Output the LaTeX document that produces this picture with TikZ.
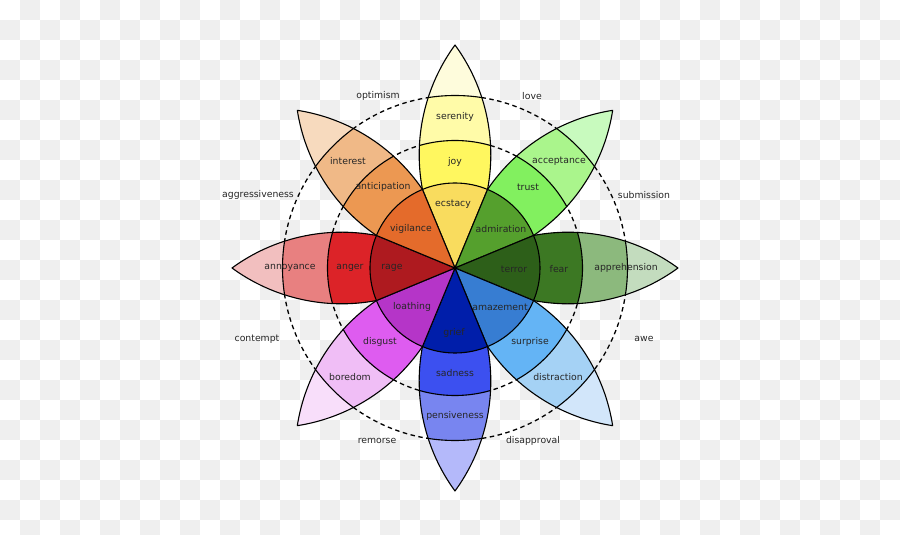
\documentclass[tikz,border=0pt]{standalone}
\usepackage{fontspec}
\setmainfont{DejaVu Sans}
\definecolor{checker}{HTML}{EFEFEF}
\definecolor{txt}{HTML}{262626}
\definecolor{Ya}{HTML}{F9DC5E}\definecolor{Yb}{HTML}{FFF75F}\definecolor{Yc}{HTML}{FFFBA8}\definecolor{Yd}{HTML}{FEFCDC}
\definecolor{Ga}{HTML}{55A02D}\definecolor{Gb}{HTML}{82F05F}\definecolor{Gc}{HTML}{AAF58C}\definecolor{Gd}{HTML}{C8FABE}
\definecolor{Da}{HTML}{2D5F19}\definecolor{Db}{HTML}{3C7823}\definecolor{Dc}{HTML}{8CB97D}\definecolor{Dd}{HTML}{C3DCBE}
\definecolor{Ba}{HTML}{377DD2}\definecolor{Bb}{HTML}{64B4F5}\definecolor{Bc}{HTML}{A5D2F5}\definecolor{Bd}{HTML}{D2E6FA}
\definecolor{Na}{HTML}{001EAA}\definecolor{Nb}{HTML}{3C50F0}\definecolor{Nc}{HTML}{7885F0}\definecolor{Nd}{HTML}{B4B9FA}
\definecolor{Pa}{HTML}{B535C8}\definecolor{Pb}{HTML}{DE5CF0}\definecolor{Pc}{HTML}{F0BEF6}\definecolor{Pd}{HTML}{F8DEFA}
\definecolor{Ra}{HTML}{AE1A1F}\definecolor{Rb}{HTML}{DC2328}\definecolor{Rc}{HTML}{E88080}\definecolor{Rd}{HTML}{F2BFBF}
\definecolor{Oa}{HTML}{E46B2B}\definecolor{Ob}{HTML}{EC9852}\definecolor{Oc}{HTML}{F0B987}\definecolor{Od}{HTML}{F7DABE}
\begin{document}
\begin{tikzpicture}[x=1pt,y=1pt,
  lbl/.style={font=\fontsize{9.3}{11}\selectfont, text=txt, inner sep=0pt},
  outline/.style={draw=black, line width=1.1pt, line join=round},
  ringline/.style={draw=black, line width=1.1pt},
  dashring/.style={draw=black, line width=1.3pt, dash pattern=on 4.5pt off 3.5pt},
  petal/.style={insert path={(0,0) -- (22.5:85) arc[start angle=100.77, end angle=53.85, radius=186pt] arc[start angle=-53.85, end angle=-100.77, radius=186pt] -- cycle}}]

\useasboundingbox (-455,-267) rectangle (445,268);
\fill[white] (-455,-267) rectangle (445,268);
\begin{scope}
\clip (-455,-267) rectangle (445,268);
\foreach \i in {0,...,44}{\foreach \j in {0,...,26}{%
  \pgfmathtruncatemacro\s{\i+\j}%
  \ifodd\s \fill[checker] ({20*\i-455},{248-20*\j}) rectangle ++(20,20); \fi}}
\end{scope}

\draw[dashring] (0,0) circle[radius=127.5pt];
\draw[dashring] (0,0) circle[radius=172.5pt];

\foreach \a/\ca/\cb/\cc/\cd in {90/Ya/Yb/Yc/Yd, 45/Ga/Gb/Gc/Gd, 0/Da/Db/Dc/Dd, -45/Ba/Bb/Bc/Bd,
  -90/Na/Nb/Nc/Nd, -135/Pa/Pb/Pc/Pd, 180/Ra/Rb/Rc/Rd, 135/Oa/Ob/Oc/Od}{
  \begin{scope}[rotate=\a]
    \fill[\cd, petal];
    \begin{scope}
      \clip[petal];
      \fill[\cc] (0,0) circle[radius=172.5pt];
      \fill[\cb] (0,0) circle[radius=127.5pt];
      \fill[\ca] (0,0) circle[radius=85pt];
      \draw[ringline] (0,0) circle[radius=127.5pt] (0,0) circle[radius=172.5pt];
    \end{scope}
    \draw[outline, petal];
  \end{scope}
}
\draw[ringline] (0,0) circle[radius=85pt];

% petal labels
\node[lbl] (serenity) at (0,151) {serenity};
\node[lbl] (joy) at (0,106) {joy};
\node[lbl] (ecstacy) at (-2,64) {ecstacy};
\node[lbl] (interest) at (-107,107) {interest};
\node[lbl] (anticipation) at (-72,81) {anticipation};
\node[lbl] (vigilance) at (-44,39) {vigilance};
\node[lbl] (annoyance) at (-165,0) {annoyance};
\node[lbl] (anger) at (-105,0) {anger};
\node[lbl] (rage) at (-63,0) {rage};
\node[lbl] (boredom) at (-105,-109) {boredom};
\node[lbl] (disgust) at (-75,-74) {disgust};
\node[lbl] (loathing) at (-43,-39) {loathing};
\node[lbl] (pensiveness) at (0,-148) {pensiveness};
\node[lbl] (sadness) at (0,-105) {sadness};
\node[lbl] (grief) at (-1,-65) {grief};
\node[lbl] (distraction) at (103,-109) {distraction};
\node[lbl] (surprise) at (75,-74) {surprise};
\node[lbl] (amazement) at (45,-39) {amazement};
\node[lbl] (apprehension) at (171,0) {apprehension};
\node[lbl] (fear) at (104,-1) {fear};
\node[lbl] (terror) at (59,-1) {terror};
\node[lbl] (acceptance) at (104,107) {acceptance};
\node[lbl] (trust) at (73,81) {trust};
\node[lbl] (admiration) at (46,39) {admiration};

% dyads
\node[lbl] (optimism) at (-77,172) {optimism};
\node[lbl] (love) at (77,172) {love};
\node[lbl] (submission) at (189,73) {submission};
\node[lbl] (awe) at (189,-71) {awe};
\node[lbl] (disapproval) at (78,-173) {disapproval};
\node[lbl] (remorse) at (-78,-173) {remorse};
\node[lbl] (contempt) at (-198,-71) {contempt};
\node[lbl] (aggressiveness) at (-197,73) {aggressiveness};
\end{tikzpicture}
\end{document}
